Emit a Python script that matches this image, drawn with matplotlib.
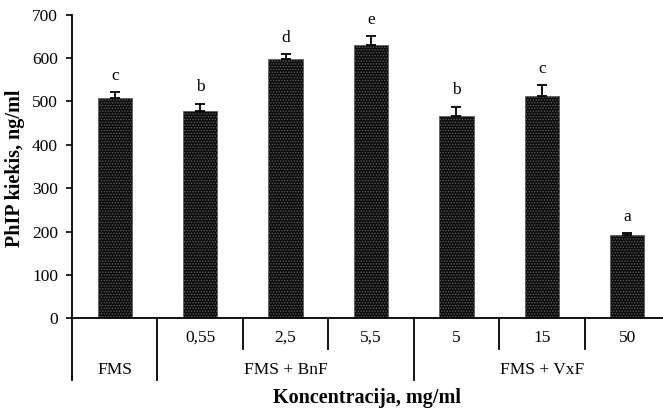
import matplotlib
matplotlib.use("Agg")
import matplotlib.pyplot as plt
import matplotlib.transforms as mtransforms

plt.rcParams['font.family'] = ['Liberation Serif', 'DejaVu Serif']
plt.rcParams['hatch.linewidth'] = 0.6

conc_labels = ["", "0,55", "2,5", "5,5", "5", "15", "50"]
group_labels = ["FMS", "FMS + BnF", "FMS + VxF"]
group_sizes = [1, 3, 3]
values = [508, 478, 599, 630, 466, 513, 191]
errors = [13, 17, 10, 21, 22, 24, 6]
letters = ["c", "b", "d", "e", "b", "c", "a"]

W, H = 663, 413
fig = plt.figure(figsize=(W / 100, H / 100), dpi=100)
ax = fig.add_axes([72 / W, 1 - 318.3 / H, 598 / W, 303.6 / H])

x = list(range(len(values)))
ax.bar(x, values, width=0.4, color='#0d0d0d', edgecolor='#5e5e5e',
       linewidth=0.6, hatch='......', zorder=2)
ax.errorbar(x, values, yerr=[[0] * len(errors), errors], fmt='none',
            ecolor='black', elinewidth=1.3, capsize=3.5, capthick=1.3, zorder=3)
for xi, v, e, l in zip(x, values, errors, letters):
    ax.annotate(l, (xi, v + e), xytext=(0, 6), textcoords='offset points',
                ha='center', va='bottom', fontsize=12.5)

ax.set_xlim(-0.5, len(values) - 0.5)
ax.set_ylim(0, 700)
ax.set_yticks(range(0, 701, 100))
ax.tick_params(axis='y', direction='out', length=4, width=1.2, pad=6, labelsize=12.5)
ax.set_xticks([])
for s in ['top', 'right']:
    ax.spines[s].set_visible(False)
ax.spines['left'].set_linewidth(1.3)
ax.spines['bottom'].set_linewidth(1.3)
ax.spines['bottom'].set_position(('data', 0))

trans = mtransforms.blended_transform_factory(ax.transData, ax.transAxes)
long_y = -0.204
short_y = -0.102
# left spine extension
ax.plot([-0.5, -0.5], [0, long_y], transform=trans, color='black', lw=1.3, clip_on=False)
# dividers
pos = -0.5
for gs in group_sizes:
    for k in range(1, gs):
        ax.plot([pos + k, pos + k], [0, short_y], transform=trans, color='black', lw=1.3, clip_on=False)
    pos += gs
    ax.plot([pos, pos], [0, long_y], transform=trans, color='black', lw=1.3, clip_on=False)

for xi, lab in zip(x, conc_labels):
    ax.text(xi, -0.065, lab, transform=trans, ha='center', va='center', fontsize=12.5)

start = 0
for gs, g in zip(group_sizes, group_labels):
    c = start + (gs - 1) / 2
    ax.text(c, -0.17, g, transform=trans, ha='center', va='center', fontsize=12.5)
    start += gs

fig.text(367 / W, 1 - 398 / H, "Koncentracija, mg/ml", ha='center', va='center',
         fontsize=14.5, fontweight='bold')
fig.text(15 / W, 1 - 168 / H, "PhIP kiekis, ng/ml", ha='center', va='center',
         rotation=90, fontsize=14.5, fontweight='bold')

fig.savefig("out.png", dpi=100)
